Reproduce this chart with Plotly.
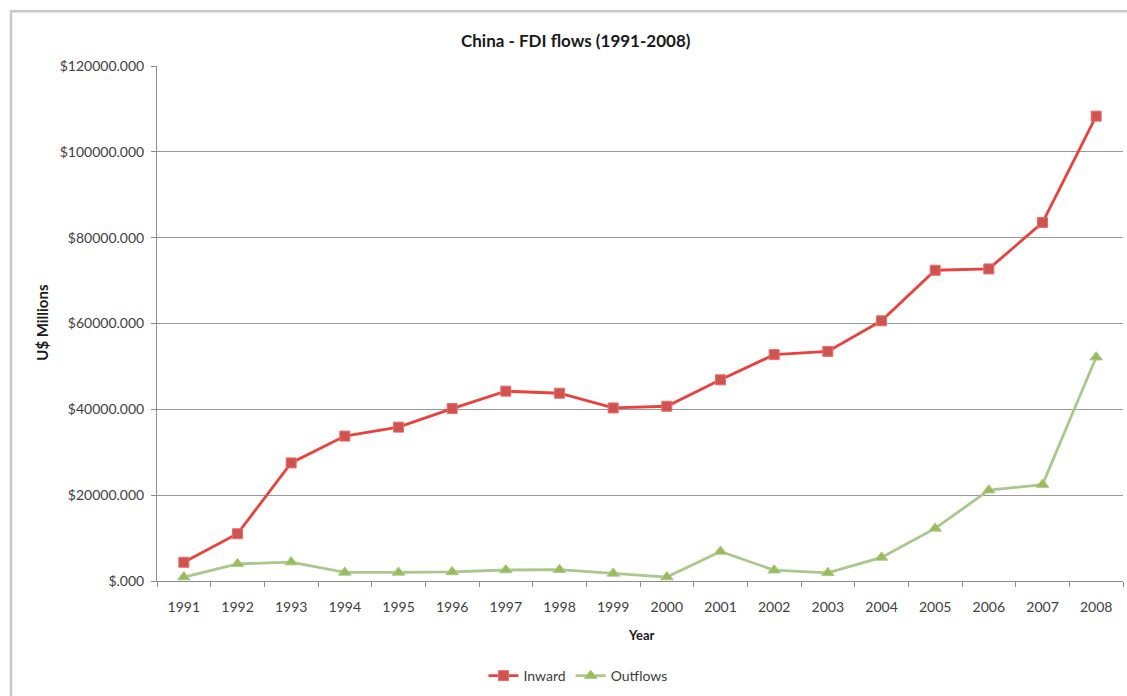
import plotly.graph_objects as go

years = [str(y) for y in range(1991, 2009)]
inward = [4366, 11008, 27515, 33767, 35849, 40180, 44237, 43751, 40319, 40715,
          46878, 52743, 53505, 60630, 72406, 72715, 83521, 108312]
outflows = [913, 4000, 4400, 2000, 2000, 2114, 2563, 2634, 1775, 916,
            6885, 2518, 1900, 5498, 12261, 21160, 22469, 52150]
ytick_vals = [0, 20000, 40000, 60000, 80000, 100000, 120000]
ytick_text = ["$.000", "$20000.000", "$40000.000", "$60000.000",
              "$80000.000", "$100000.000", "$120000.000"]

W, H = 1127, 696
L, R, T, B = 157, 4, 66, 112.5
pw, ph = W - L - R, H - T - B

def px2x(p):
    return (p - L) / pw

def py2y(p):
    return (H - B - p) / ph

FONT = "Lato, 'Open Sans', sans-serif"

fig = go.Figure()
fig.add_trace(go.Scatter(
    x=years, y=inward, name="Inward", mode="lines+markers",
    line=dict(color="#e8413e", width=2.8),
    marker=dict(symbol="square", size=10, color="#cd5451",
                line=dict(color="#ee6b68", width=1)),
))
fig.add_trace(go.Scatter(
    x=years, y=outflows, name="Outflows", mode="lines+markers",
    line=dict(color="#a9c88c", width=2.8),
    marker=dict(symbol="triangle-up", size=11, color="#9bbb59",
                line=dict(color="#a9c88c", width=1)),
))

fig.update_layout(
    width=W, height=H,
    margin=dict(l=L, r=R, t=T, b=B),
    paper_bgcolor="white", plot_bgcolor="white",
    font=dict(family=FONT, size=14, color="#404040"),
    showlegend=True,
    legend=dict(orientation="h", x=px2x(578), y=py2y(679),
                xanchor="center", yanchor="middle",
                font=dict(family=FONT, size=14, color="#404040"),
                itemwidth=30, tracegroupgap=0),
    xaxis=dict(
        type="category", showgrid=False, showline=True, linecolor="#8c8c8c",
        linewidth=1, ticks="outside", tickson="boundaries", ticklen=5,
        tickcolor="#8c8c8c", tickfont=dict(size=14, color="#404040"),
        ticklabelstandoff=13, range=[-0.5, 17.5], zeroline=False,
    ),
    yaxis=dict(
        range=[0, 120000], tickvals=ytick_vals, ticktext=ytick_text,
        showgrid=True, gridcolor="#9a9a9a", gridwidth=1,
        showline=True, linecolor="#8c8c8c", linewidth=1,
        ticks="outside", ticklen=5, tickcolor="#8c8c8c",
        tickfont=dict(size=14, color="#404040"), zeroline=False,
        ticklabelstandoff=4,
    ),
    shapes=[dict(type="rect", xref="paper", yref="paper",
                 x0=px2x(11), x1=px2x(1145), y0=py2y(11), y1=py2y(710),
                 line=dict(color="#c8c8c8", width=2.5), fillcolor="rgba(0,0,0,0)",
                 layer="below")],
    annotations=[
        dict(text="<b>China - FDI flows (1991-2008)</b>", xref="paper", yref="paper",
             x=px2x(576), y=py2y(40), xanchor="center", yanchor="middle",
             showarrow=False, font=dict(family=FONT, size=17, color="#1a1a1a")),
        dict(text="<b>Year</b>", xref="paper", yref="paper",
             x=px2x(641), y=py2y(638), xanchor="center", yanchor="middle",
             showarrow=False, font=dict(family=FONT, size=13, color="#1a1a1a")),
        dict(text="<b>U$ Millions</b>", xref="paper", yref="paper",
             x=px2x(42), y=py2y(324), xanchor="center", yanchor="middle",
             textangle=-90, showarrow=False,
             font=dict(family=FONT, size=15, color="#1a1a1a")),
    ],
)

fig.write_html("out.html")
